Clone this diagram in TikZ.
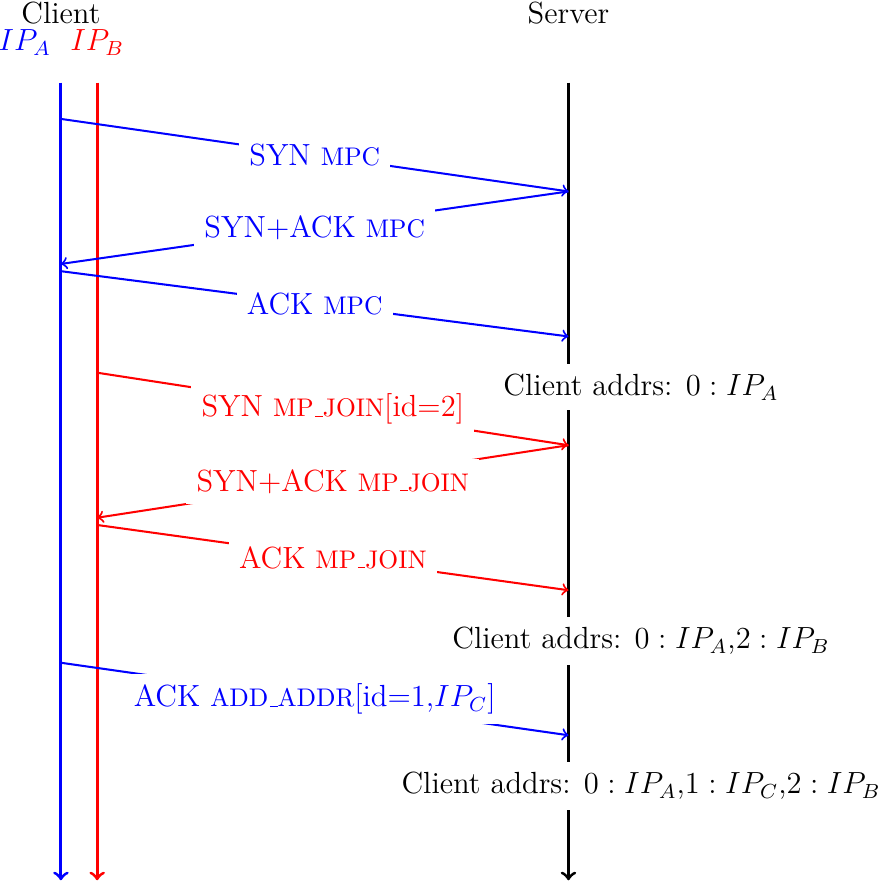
\documentclass[12pt,tikz,border=0pt]{standalone}
\usepackage{tikz}
\newcommand{\uscore}{\kern.06em\vbox{\hrule width.3em}}

\begin{document}
\begin{tikzpicture}[
    lifeline/.style={very thick,->},
    msg/.style={thick,->},
    lbl/.style={fill=white,midway},
    addrs/.style={fill=white}]
    \useasboundingbox (-0.84,1.14) rectangle (11.27,-11.01);
    % lifelines
    \coordinate (Atop) at (0,0);
    \coordinate (Abot) at (0,-11);
    \coordinate (Btop) at (0.5,0);
    \coordinate (Bbot) at (0.5,-11);
    \coordinate (Stop) at (7,0);
    \coordinate (Sbot) at (7,-11);
    \draw[lifeline,blue] (Atop) -- (Abot);
    \draw[lifeline,red] (Btop) -- (Bbot);
    \draw[lifeline] (Stop) -- (Sbot);%
    \node (client) at (0,0.96) {Client};
    \node[blue] (ipa) at (-0.5,0.55) {$IP_A$};
    \node[red] (ipb) at (0.5,0.55) {$IP_B$};
    \node (server) at (7,0.96) {Server};%
    % end points on the lifelines
    \coordinate (a1) at (0,-0.5);
    \coordinate (s1) at (7,-1.5);
    \coordinate (a2) at (0,-2.5);
    \coordinate (a3) at (0,-2.6);
    \coordinate (s3) at (7,-3.5);
    \coordinate (b4) at (0.5,-4);
    \coordinate (s4) at (7,-5);
    \coordinate (b5) at (0.5,-6);
    \coordinate (b6) at (0.5,-6.1);
    \coordinate (s6) at (7,-7);
    \coordinate (a7) at (0,-8);
    \coordinate (s7) at (7,-9);%
    % MPC handshake
    \draw[msg,blue] (a1) -- (s1) node[lbl] (syn) {SYN {\footnotesize MPC}};
    \draw[msg,blue] (s1) -- (a2) node[lbl] (synack) {SYN+ACK {\footnotesize MPC}};
    \draw[msg,blue] (a3) -- (s3) node[lbl] (ack) {ACK {\footnotesize MPC}};
    \node[addrs] (addrs1) at (8,-4.2) {Client addrs: $0:IP_A$};%
    % MP_JOIN handshake
    \draw[msg,red] (b4) -- (s4) node[lbl] (synjoin) {SYN {\footnotesize MP\uscore JOIN}[id=2]};
    \draw[msg,red] (s4) -- (b5) node[lbl] (synackjoin) {SYN+ACK {\footnotesize MP\uscore JOIN}};
    \draw[msg,red] (b6) -- (s6) node[lbl] (ackjoin) {ACK {\footnotesize MP\uscore JOIN}};
    \node[addrs] (addrs2) at (8,-7.7) {Client addrs: $0:IP_A$,$2:IP_B$};%
    % ADD_ADDR
    \draw[msg,blue] (a7) -- (s7) node[lbl] (addaddr) {ACK {\footnotesize ADD\uscore ADDR}[id=1,$IP_C$]};
    \node[addrs] (addrs3) at (8,-9.7) {Client addrs: $0:IP_A$,$1:IP_C$,$2:IP_B$};%
\end{tikzpicture}
\end{document}
